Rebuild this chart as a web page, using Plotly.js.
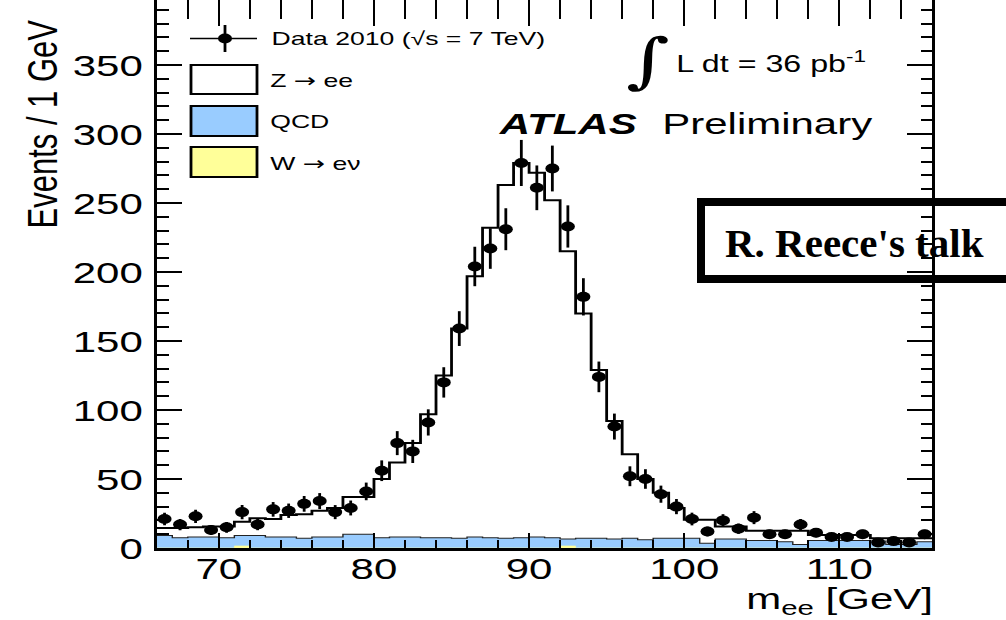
<!DOCTYPE html>
<html><head><meta charset="utf-8">
<script src="https://cdn.plot.ly/plotly-3.0.1.min.js"></script>
<style>
html,body{margin:0;padding:0;background:#fff;overflow:hidden;width:1006px;height:620px;}
#wrap{position:absolute;left:0;top:-4px;width:719px;height:624px;transform:scaleX(1.4);transform-origin:0 0;}
#over{position:absolute;left:0;top:0;width:1006px;height:620px;pointer-events:none;}
</style></head><body>
<div id="wrap"><div id="chart" style="width:719px;height:624px"></div></div>
<div id="over"></div>
<script>
// ---- data (1 GeV bins, m_ee) ----
const massBins = [66.5,67.5,68.5,69.5,70.5,71.5,72.5,73.5,74.5,75.5,
  76.5,77.5,78.5,79.5,80.5,81.5,82.5,83.5,84.5,85.5,
  86.5,87.5,88.5,89.5,90.5,91.5,92.5,93.5,94.5,95.5,
  96.5,97.5,98.5,99.5,100.5,101.5,102.5,103.5,104.5,105.5,
  106.5,107.5,108.5,109.5,110.5,111.5,112.5,113.5,114.5,115.5];
const dataCounts = [21,17,23,13,15,26,17,28,27,32,
  34,26,29,41,56,76,70,91,120,159,
  204,217,231,279,261,275,233,182,124,88,
  52,50,39,30,21,12,20,14,22,10,
  10,17,11,8,8,10,4,5,4,10];
const dataErr = [4.6,4.1,4.8,3.6,3.9,5.1,4.1,5.3,5.2,5.7,
  5.8,5.1,5.4,6.4,7.5,8.7,8.4,9.5,11.0,12.6,
  14.3,14.7,15.2,16.7,16.2,16.6,15.3,13.5,11.1,9.4,
  7.2,7.1,6.2,5.5,4.6,3.5,4.5,3.7,4.7,3.2,
  3.2,4.1,3.3,2.8,2.8,3.2,2.0,2.2,2.0,3.2];
// stacked MC: top of Z->ee stack (Z+QCD+W), top of QCD stack (QCD+W), W->enu
const zeeStackTop = [14.5,14.5,15,15.5,15.5,19,21.5,21,24,24.5,
  27,29,37,37,50,62,76,97,125,159,
  197,232,263,279,272,252,215,170,129,92,
  68,50,40,29,20.5,20.5,15.5,15.5,12.5,12.5,
  12.5,12.5,9.5,9.5,9.5,9.5,7,7,7,7];
const qcdStackTop = [9,7.5,8,8,7.5,9,9,8,8,7,
  8,8,10,10,7.5,8,8,7.5,7.5,7,
  8,7.5,7,7.5,8,7.5,6.5,7,7,6.5,
  7,6,7,7,7,3.5,6.5,6.5,5.5,5.5,
  4.5,2.5,5.5,5.5,5.5,5.5,5,2.5,2.5,4.5];
const wenu = [0,0,0,0,0,1.5,0,0,0,0,
  0,0,0,0,0,0,0,0,0,0,
  0,0,0,0,0,0,1.5,0,0,0,
  0,0,0,0,0,0,0,0,0,0,
  0,0,0,0,0,0,0,0,0,0];
const xTicks = [70,80,90,100,110];
const yTicks = [0,50,100,150,200,250,300,350];
const ARW = '<span style="font-family:DejaVu Sans">→</span>';
const legendLabels = ['Data 2010 (√s = 7 TeV)','Z '+ARW+' ee','QCD','W '+ARW+' eν'];

// ---- geometry ----
const S=1.4, W=719, H=624, ML=112, MR=53, MT=0, MB=72, OFF=4;
const PW=W-ML-MR, PH=H-MT-MB;
const X = xf => (xf/S - ML)/PW;
const Y = yf => 1 - (yf + OFF - MT)/PH;
const FONT = 'Liberation Sans, Arial, Helvetica, sans-serif';

function steps(vals){
  const xs=[], ys=[];
  for(let i=0;i<massBins.length;i++){ xs.push(massBins[i]-0.5); ys.push(vals[i]); }
  xs.push(massBins[massBins.length-1]+0.5); ys.push(vals[vals.length-1]);
  return {xs, ys};
}
const zS = steps(zeeStackTop), qS = steps(qcdStackTop), wS = steps(wenu);

const traces = [
  {x:zS.xs, y:zS.ys, type:'scatter', mode:'lines', line:{shape:'hv', color:'black', width:2},
   fill:'tozeroy', fillcolor:'white', hoverinfo:'skip', name:'Z → ee'},
  {x:qS.xs, y:qS.ys, type:'scatter', mode:'lines', line:{shape:'hv', color:'#222', width:1},
   fill:'tozeroy', fillcolor:'#99ccff', hoverinfo:'skip', name:'QCD'},
  {x:wS.xs, y:wS.ys, type:'scatter', mode:'lines', line:{shape:'hv', color:'#ffff99', width:0.5},
   fill:'tozeroy', fillcolor:'#ffff99', hoverinfo:'skip', name:'W → eν'},
  {x:massBins, y:dataCounts, type:'scatter', mode:'markers',
   marker:{size:10, color:'black'},
   error_y:{type:'data', array:dataErr, visible:true, thickness:2, width:0, color:'black'},
   name:'Data 2010'},
  // carrier for the top tick axis (draws nothing)
  {x:[massBins[0]], y:[dataCounts[0]], xaxis:'x2', yaxis:'y', type:'scatter', mode:'markers',
   marker:{opacity:0, size:1}, hoverinfo:'skip', showlegend:false}
];

const axFont = {family:FONT, size:30, color:'#000'};
const layout = {
  width:W, height:H, margin:{l:ML, r:MR, t:MT, b:MB, pad:0},
  paper_bgcolor:'white', plot_bgcolor:'white', showlegend:false,
  xaxis:{range:[66,116], tickmode:'array', tickvals:xTicks, ticktext:xTicks.map(String),
    ticks:'inside', ticklen:15, tickwidth:1.5, tickcolor:'black',
    minor:{tickmode:'linear', tick0:0, dtick:2, ticks:'inside', ticklen:8, tickwidth:1.5, tickcolor:'black', showgrid:false},
    showline:true, linewidth:3, linecolor:'black', mirror:false,
    showgrid:false, zeroline:false, tickfont:axFont, ticklabelstandoff:-8},
  xaxis2:{range:[66,116], overlaying:'x', side:'top', anchor:'y', tickmode:'array', tickvals:xTicks,
    ticks:'inside', ticklen:30, tickwidth:1.5, tickcolor:'black', showticklabels:false,
    minor:{tickmode:'linear', tick0:0, dtick:2, ticks:'inside', ticklen:23, tickwidth:1.5, tickcolor:'black', showgrid:false},
    showline:false, showgrid:false, zeroline:false},
  yaxis:{range:[0,552/1.38], tickmode:'array', tickvals:yTicks, ticktext:yTicks.map(String),
    ticks:'inside', ticklen:18, tickwidth:2, tickcolor:'black',
    minor:{tickmode:'linear', tick0:0, dtick:10, ticks:'inside', ticklen:8.5, tickwidth:2, tickcolor:'black', showgrid:false},
    showline:true, linewidth:2, linecolor:'black', mirror:'ticks',
    showgrid:false, zeroline:false, tickfont:axFont, ticklabelstandoff:2},
  shapes:[
    {type:'line', xref:'paper', yref:'paper', x0:X(190), x1:X(257), y0:Y(38.5), y1:Y(38.5), line:{color:'black', width:1.5}},
    {type:'line', xref:'paper', yref:'paper', x0:X(225), x1:X(225), y0:Y(25), y1:Y(52), line:{color:'black', width:2}},
    {type:'circle', xref:'paper', yref:'paper', x0:X(218), x1:X(232), y0:Y(33.5), y1:Y(43.5), fillcolor:'black', line:{width:0}},
    {type:'rect', xref:'paper', yref:'paper', x0:X(191), x1:X(257), y0:Y(65), y1:Y(94), fillcolor:'white', line:{color:'black', width:2}},
    {type:'rect', xref:'paper', yref:'paper', x0:X(191), x1:X(257), y0:Y(106), y1:Y(136), fillcolor:'#99ccff', line:{color:'black', width:2}},
    {type:'rect', xref:'paper', yref:'paper', x0:X(191), x1:X(257), y0:Y(147), y1:Y(177), fillcolor:'#ffff99', line:{color:'black', width:2}}
  ],
  annotations:[
    {text:'Events / 1 GeV', textangle:-90, xref:'paper', yref:'paper', x:X(42), y:Y(18), xanchor:'center', yanchor:'top', showarrow:false, font:{family:FONT, size:31, color:'#000'}},
    {text:'m<sub>ee</sub> [GeV]', xref:'paper', yref:'paper', x:X(935), y:Y(600), xanchor:'right', yanchor:'middle', showarrow:false, font:{family:FONT, size:30, color:'#000'}},
    {text:legendLabels[0], xref:'paper', yref:'paper', x:X(269), y:Y(38), xanchor:'left', yanchor:'middle', showarrow:false, font:{family:FONT, size:19, color:'#000'}},
    {text:legendLabels[1], xref:'paper', yref:'paper', x:X(268), y:Y(80), xanchor:'left', yanchor:'middle', showarrow:false, font:{family:FONT, size:19, color:'#000'}},
    {text:legendLabels[2], xref:'paper', yref:'paper', x:X(268), y:Y(121), xanchor:'left', yanchor:'middle', showarrow:false, font:{family:FONT, size:19, color:'#000'}},
    {text:legendLabels[3], xref:'paper', yref:'paper', x:X(268), y:Y(163), xanchor:'left', yanchor:'middle', showarrow:false, font:{family:FONT, size:19, color:'#000'}},
    {text:'<b><i>ATLAS</i></b>', xref:'paper', yref:'paper', x:X(495), y:Y(123), xanchor:'left', yanchor:'middle', showarrow:false, font:{family:FONT, size:30, color:'#000'}},
    {text:'Preliminary', xref:'paper', yref:'paper', x:X(659), y:Y(123), xanchor:'left', yanchor:'middle', showarrow:false, font:{family:FONT, size:30, color:'#000'}},
    {text:'∫', xref:'paper', yref:'paper', x:X(648), y:Y(60), xanchor:'center', yanchor:'middle', showarrow:false, font:{family:'DejaVu Serif, serif', size:60, color:'#000'}},
    {text:'L dt = 36 pb<sup>-1</sup>', xref:'paper', yref:'paper', x:X(674), y:Y(62), xanchor:'left', yanchor:'middle', showarrow:false, font:{family:FONT, size:23, color:'#000'}}
  ]
};
Plotly.newPlot('chart', traces, layout, {staticPlot:true, displayModeBar:false});

// overlay label (not part of the stretched chart)
Plotly.newPlot('over', [], {
  width:1006, height:620, margin:{l:0,r:0,t:0,b:0},
  paper_bgcolor:'rgba(0,0,0,0)', plot_bgcolor:'rgba(0,0,0,0)',
  xaxis:{visible:false, range:[0,1]}, yaxis:{visible:false, range:[0,1]},
  shapes:[{type:'rect', xref:'paper', yref:'paper', x0:701/1006, x1:1012/1006, y0:1-202/620, y1:1-279/620, line:{color:'black', width:8}}],
  annotations:[{text:"<b>R. Reece's talk</b>", xref:'paper', yref:'paper', x:854/1006, y:1-243/620, xanchor:'center', yanchor:'middle', showarrow:false,
    font:{family:'Liberation Serif, Times New Roman, serif', size:41, color:'#000'}}]
}, {staticPlot:true, displayModeBar:false});
</script>
</body></html>
